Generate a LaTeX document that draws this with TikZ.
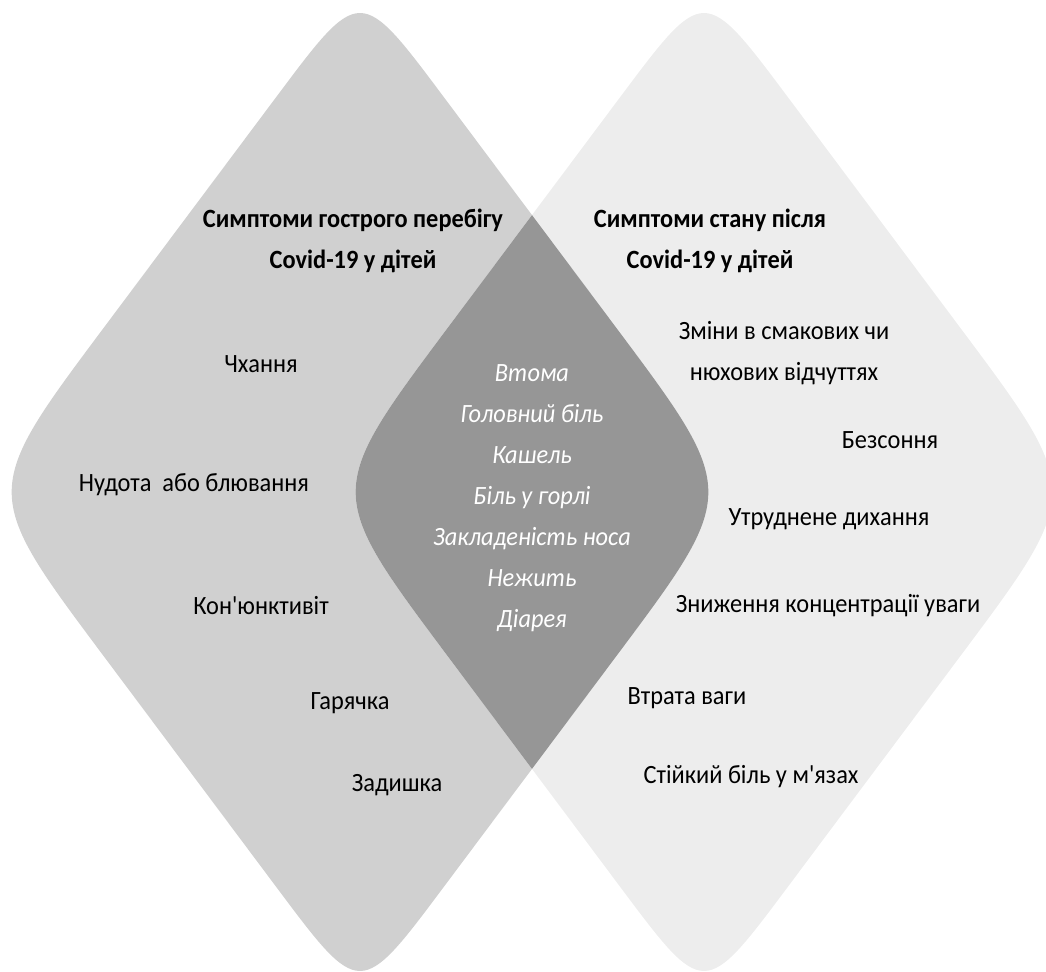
\documentclass[tikz,border=0pt]{standalone}
\usepackage{fontspec}
\setmainfont{Carlito}[FakeStretch=0.925, Ligatures=TeXOff]
\usetikzlibrary{calc}

\definecolor{acutegray}{RGB}{208,208,208}
\definecolor{postgray}{RGB}{237,237,237}
\definecolor{bothgray}{RGB}{150,150,150}

% rounded rhombus through the corners #1t, #1r, #1b, #1l
\newcommand{\rhomb}[1]{($(#1l)!4.1cm!(#1t)$) -- ($(#1t)!2.8cm!(#1l)$) .. controls (#1t) .. ($(#1t)!2.8cm!(#1r)$)
  -- ($(#1r)!4.1cm!(#1t)$) .. controls (#1r) .. ($(#1r)!4.1cm!(#1b)$)
  -- ($(#1b)!2.8cm!(#1r)$) .. controls (#1b) .. ($(#1b)!2.8cm!(#1l)$)
  -- ($(#1l)!4.1cm!(#1b)$) .. controls (#1l) .. ($(#1l)!4.1cm!(#1t)$) -- cycle}

\tikzset{
  item/.style={inner sep=0pt, align=center, font=\fontsize{15}{23.3}\selectfont},
  head/.style={item, font=\fontsize{15}{23.3}\selectfont\bfseries},
  shared/.style={item, text=white, font=\fontsize{15}{23.3}\selectfont\itshape},
}

\begin{document}
\begin{tikzpicture}[x=0.02cm, y=-0.02cm]
  \useasboundingbox (0,0) rectangle (1046,972);

  \coordinate (Lt) at (360,-15);
  \coordinate (Lr) at (739,492);
  \coordinate (Lb) at (360,999);
  \coordinate (Ll) at (-19,492);

  \coordinate (Rt) at (704,-15);
  \coordinate (Rr) at (1083,492);
  \coordinate (Rb) at (704,999);
  \coordinate (Rl) at (325,492);

  \fill[acutegray] \rhomb{L};
  \fill[postgray] \rhomb{R};
  \begin{scope}
    \clip \rhomb{L};
    \fill[bothgray] \rhomb{R};
  \end{scope}

  % acute course
  \node[head] (acute) at (353,241) {Симптоми гострого перебігу\\Covid-19 у дітей};
  \node[item] (itch) at (261,364) {Чхання};
  \node[item] (nausea) at (194,485) {Нудота\ \ або блювання};
  \node[item] (conj) at (261,606) {Кон'юнктивіт};
  \node[item] (fever) at (350,703) {Гарячка};
  \node[item] (dysp) at (397,785) {Задишка};

  % both
  \node[shared] (both) at (532,498) {Втома\\Головний біль\\Кашель\\Біль у горлі\\Закладеність носа\\Нежить\\Діарея};

  % post covid
  \node[head] (post) at (710,241) {Симптоми стану після\\Covid-19 у дітей};
  \node[item] (taste) at (784,353) {Зміни в смакових чи\\нюхових відчуттях};
  \node[item] (insom) at (890,440) {Безсоння};
  \node[item] (breath) at (829,519) {Утруднене дихання};
  \node[item] (focus) at (828,606) {Зниження концентрації уваги};
  \node[item] (weight) at (687,698) {Втрата ваги};
  \node[item] (muscle) at (751,777) {Стійкий біль у м'язах};
\end{tikzpicture}
\end{document}
